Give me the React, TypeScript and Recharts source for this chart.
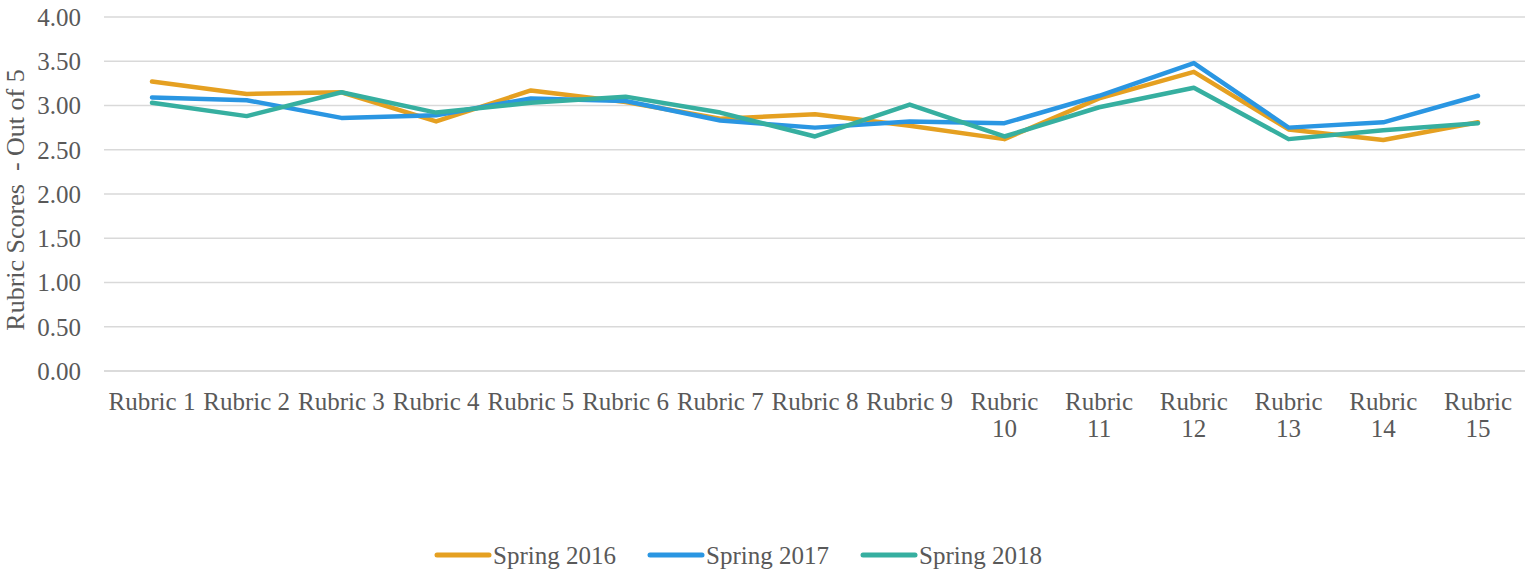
import React from 'react';
import { LineChart, Line, XAxis, YAxis, CartesianGrid, Legend, Label } from 'recharts';

const categories = ['Rubric 1','Rubric 2','Rubric 3','Rubric 4','Rubric 5','Rubric 6','Rubric 7','Rubric 8','Rubric 9','Rubric 10','Rubric 11','Rubric 12','Rubric 13','Rubric 14','Rubric 15'];
const spring2016 = [3.27,3.13,3.15,2.82,3.17,3.04,2.85,2.90,2.77,2.62,3.08,3.38,2.73,2.61,2.81];
const spring2017 = [3.09,3.06,2.86,2.89,3.08,3.05,2.83,2.75,2.82,2.80,3.11,3.48,2.75,2.81,3.11];
const spring2018 = [3.03,2.88,3.15,2.92,3.03,3.10,2.92,2.65,3.01,2.65,2.98,3.20,2.62,2.72,2.80];
const yTicks = [0, 0.5, 1, 1.5, 2, 2.5, 3, 3.5, 4];

const seriesNames = ['Spring 2016', 'Spring 2017', 'Spring 2018'];
const seriesColors = ['#E5A021', '#2A96E2', '#36AFA0'];

const data = categories.map((c, i) => ({
  name: c,
  s2016: spring2016[i],
  s2017: spring2017[i],
  s2018: spring2018[i],
}));

const FONT = '"Liberation Serif", "Times New Roman", serif';
const TEXT = '#595959';

const XTick = (props: any) => {
  const { x, y, payload } = props;
  const label: string = payload.value;
  const lines = label.length > 8 ? label.split(' ') : [label];
  return (
    <text x={x} y={y} textAnchor="middle" fill={TEXT} fontFamily={FONT} fontSize={25}>
      {lines.map((l, i) => (
        <tspan key={i} x={x} dy={i === 0 ? 37 : 27}>{l}</tspan>
      ))}
    </text>
  );
};

const LegendContent = () => (
  <div style={{ width: 1525, height: 40 }}>
    <svg width={1525} height={40}>
      {seriesNames.map((n, i) => {
        const x0 = 437 + i * 213;
        return (
          <g key={n}>
            <line x1={x0} y1={22} x2={x0 + 52} y2={22} stroke={seriesColors[i]} strokeWidth={5} strokeLinecap="round" />
            <text x={x0 + 56} y={31} fill={TEXT} fontFamily={FONT} fontSize={25}>{n}</text>
          </g>
        );
      })}
    </svg>
  </div>
);

export default function App() {
  return (
    <div style={{ position: 'absolute', left: 0, top: 0, background: '#fff' }}>
      <LineChart width={1525} height={573} data={data} margin={{ top: 17, right: 0, left: 0, bottom: 0 }}>
        <CartesianGrid vertical={false} stroke="#D9D9D9" strokeWidth={1.5} />
        <XAxis
          dataKey="name"
          axisLine={{ stroke: '#D9D9D9', strokeWidth: 1.5 }}
          tickLine={false}
          tickSize={0}
          height={162}
          interval={0}
          padding={{ left: 48, right: 47 }}
          tick={<XTick />}
        />
        <YAxis
          domain={[0, 4]}
          ticks={yTicks}
          width={104}
          axisLine={false}
          tickLine={false}
          tickSize={0}
          tickMargin={23}
          tickFormatter={(v: number) => v.toFixed(2)}
          tick={{ fill: TEXT, fontFamily: FONT, fontSize: 25 }}
        >
          <Label
            content={() => (
              <text
                transform="translate(24, 200) rotate(-90)"
                textAnchor="middle"
                fill={TEXT}
                fontFamily={FONT}
                fontSize={26}
                style={{ whiteSpace: 'pre' }}
              >
                {'Rubric Scores  - Out of 5'}
              </text>
            )}
          />
        </YAxis>
        <Legend verticalAlign="bottom" height={40} content={<LegendContent />} />
        <Line type="linear" dataKey="s2016" name="Spring 2016" stroke={seriesColors[0]} strokeWidth={4.5} dot={false} strokeLinecap="round" strokeLinejoin="round" isAnimationActive={false} />
        <Line type="linear" dataKey="s2017" name="Spring 2017" stroke={seriesColors[1]} strokeWidth={4.5} dot={false} strokeLinecap="round" strokeLinejoin="round" isAnimationActive={false} />
        <Line type="linear" dataKey="s2018" name="Spring 2018" stroke={seriesColors[2]} strokeWidth={4.5} dot={false} strokeLinecap="round" strokeLinejoin="round" isAnimationActive={false} />
      </LineChart>
    </div>
  );
}
